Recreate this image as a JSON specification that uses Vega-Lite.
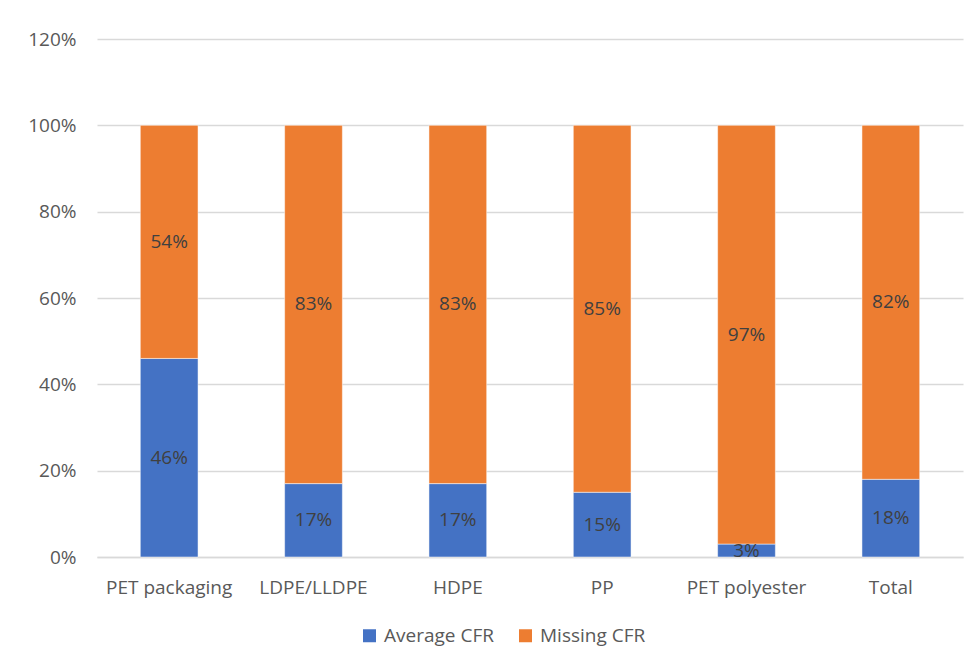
{
  "$schema": "https://vega.github.io/schema/vega-lite/v6.json",
  "width": 866,
  "height": 518,
  "autosize": {"type": "none"},
  "padding": {"left": 97, "top": 39, "right": 13, "bottom": 110},
  "background": "white",
  "config": {
    "view": {"stroke": null},
    "font": "Open Sans"
  },
  "data": {
    "values": [
      {"cat": "PET packaging", "series": "Average CFR", "v": 0.46, "ord": 1},
      {"cat": "PET packaging", "series": "Missing CFR", "v": 0.54, "ord": 2},
      {"cat": "LDPE/LLDPE", "series": "Average CFR", "v": 0.17, "ord": 1},
      {"cat": "LDPE/LLDPE", "series": "Missing CFR", "v": 0.83, "ord": 2},
      {"cat": "HDPE", "series": "Average CFR", "v": 0.17, "ord": 1},
      {"cat": "HDPE", "series": "Missing CFR", "v": 0.83, "ord": 2},
      {"cat": "PP", "series": "Average CFR", "v": 0.15, "ord": 1},
      {"cat": "PP", "series": "Missing CFR", "v": 0.85, "ord": 2},
      {"cat": "PET polyester", "series": "Average CFR", "v": 0.03, "ord": 1},
      {"cat": "PET polyester", "series": "Missing CFR", "v": 0.97, "ord": 2},
      {"cat": "Total", "series": "Average CFR", "v": 0.18, "ord": 1},
      {"cat": "Total", "series": "Missing CFR", "v": 0.82, "ord": 2}
    ]
  },
  "transform": [
    {"stack": "v", "groupby": ["cat"], "sort": [{"field": "ord", "order": "ascending"}], "as": ["y0", "y1"]},
    {"calculate": "(datum.y0 + datum.y1) / 2", "as": "ymid"}
  ],
  "encoding": {
    "x": {
      "field": "cat",
      "type": "nominal",
      "sort": null,
      "scale": {"paddingInner": 0.6, "paddingOuter": 0.3},
      "axis": {
        "title": null,
        "labelAngle": 0,
        "labelFontSize": 19,
        "labelColor": "#595959",
        "labelPadding": 21,
        "ticks": false,
        "domainColor": "#d9d9d9",
        "domainWidth": 1.5
      }
    }
  },
  "layer": [
    {
      "mark": {"type": "bar", "stroke": "white", "strokeWidth": 0.5},
      "encoding": {
        "y": {
          "field": "y0",
          "type": "quantitative",
          "scale": {"domain": [0, 1.2], "nice": false},
          "axis": {
            "title": null,
            "values": [0, 0.2, 0.4, 0.6, 0.8, 1.0, 1.2],
            "format": ".0%",
            "labelFontSize": 19,
            "labelColor": "#595959",
            "labelPadding": 21,
            "ticks": false,
            "domain": false,
            "gridColor": "#d9d9d9",
            "gridWidth": 1.5
          }
        },
        "y2": {"field": "y1"},
        "color": {
          "field": "series",
          "type": "nominal",
          "scale": {"domain": ["Average CFR", "Missing CFR"], "range": ["#4472C4", "#ED7D31"]},
          "legend": {
            "title": null,
            "orient": "none",
            "direction": "horizontal",
            "legendX": 263,
            "legendY": 587,
            "symbolType": "square",
            "symbolSize": 169,
            "symbolStrokeWidth": 0,
            "labelFontSize": 19,
            "labelColor": "#595959",
            "columnPadding": 22,
            "labelOffset": 5
          }
        }
      }
    },
    {
      "mark": {"type": "text", "fontSize": 19, "color": "#404040", "baseline": "middle"},
      "encoding": {
        "y": {"field": "ymid", "type": "quantitative"},
        "text": {"field": "v", "type": "quantitative", "format": ".0%"}
      }
    }
  ]
}
